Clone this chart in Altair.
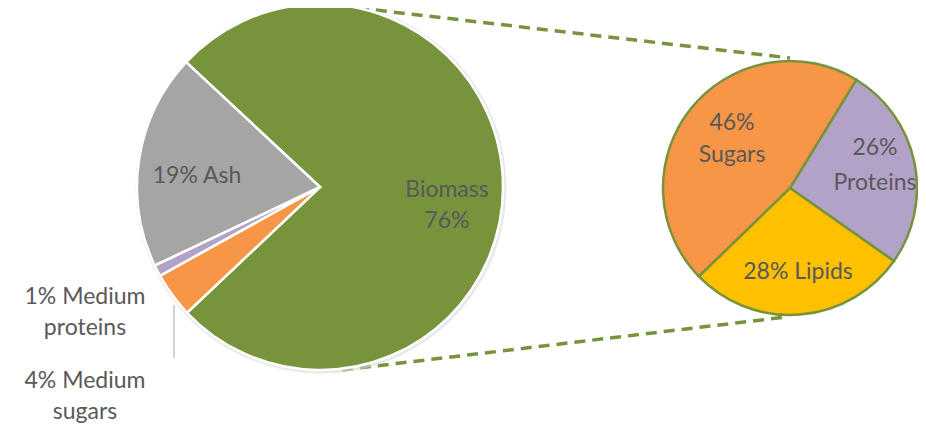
import math
import altair as alt
import pandas as pd

# ---- data ----
big_categories = ["Biomass", "Medium sugars", "Medium proteins", "Ash"]
big_values = [76, 4, 1, 19]
big_colors = ["#77933C", "#F79646", "#B3A2C7", "#A5A5A5"]

small_categories = ["Proteins", "Lipids", "Sugars"]
small_values = [26, 28, 46]
small_colors = ["#B3A2C7", "#FFC000", "#F79646"]

big_df = pd.DataFrame({"category": big_categories, "value": big_values,
                       "order": list(range(len(big_categories)))})
small_df = pd.DataFrame({"category": small_categories, "value": small_values,
                         "order": list(range(len(small_categories)))})

TEXT_COLOR = "#595959"
GREEN = "#77933C"
FONT = "Lato"
FS = 23

big_start = math.radians(313)
small_start = math.radians(31.5)
TAU = 2 * math.pi

BIG_CX, BIG_CY, BIG_R = 312, 179, 183
SM_CX, SM_CY, SM_R = 782, 180, 127

blank = pd.DataFrame({"a": [0]})

# dashed connector lines (drawn first, pies cover their ends)
top_line = alt.Chart(blank).mark_rule(color=GREEN, strokeWidth=3.5, strokeDash=[11, 7]).encode(
    x=alt.value(350), y=alt.value(0), x2=alt.value(782), y2=alt.value(50))
bot_line = alt.Chart(blank).mark_rule(color=GREEN, strokeWidth=3.5, strokeDash=[11, 7]).encode(
    x=alt.value(334), y=alt.value(362), x2=alt.value(778), y2=alt.value(309))

big_shadow = alt.Chart(blank).mark_arc(radius=BIG_R + 2.5, color="#DADADA", opacity=0.6).encode(
    x=alt.value(BIG_CX + 1), y=alt.value(BIG_CY + 1), theta=alt.value(TAU))

big_pie = alt.Chart(big_df).mark_arc(radius=BIG_R, stroke="white", strokeWidth=2.5).encode(
    x=alt.value(BIG_CX), y=alt.value(BIG_CY),
    theta=alt.Theta("value:Q", stack=True,
                    scale=alt.Scale(domain=[0, 100], range=[big_start, big_start + TAU])),
    color=alt.Color("category:N", scale=alt.Scale(domain=big_categories, range=big_colors), legend=None),
    order=alt.Order("order:Q"),
)

small_pie = alt.Chart(small_df).mark_arc(radius=SM_R, stroke=GREEN, strokeWidth=2.5).encode(
    x=alt.value(SM_CX), y=alt.value(SM_CY),
    theta=alt.Theta("value:Q", stack=True,
                    scale=alt.Scale(domain=[0, 100], range=[small_start, small_start + TAU])),
    color=alt.Color("category:N", scale=alt.Scale(domain=small_categories, range=small_colors), legend=None),
    order=alt.Order("order:Q"),
)

leader = alt.Chart(blank).mark_rule(color="#A6A6A6", strokeWidth=1).encode(
    x=alt.value(166), y=alt.value(297), y2=alt.value(350))


def label(text, x, y):
    return alt.Chart(blank).mark_text(font=FONT, fontSize=FS, color=TEXT_COLOR,
                                      align="center", baseline="middle").encode(
        x=alt.value(x), y=alt.value(y), text=alt.value(text))


labels = [
    label("19% Ash", 189, 168),
    label("Biomass", 439, 182),
    label("76%", 439, 213),
    label("46%", 724, 115),
    label("Sugars", 724, 147),
    label("26%", 867, 140),
    label("Proteins", 867, 175),
    label("28% Lipids", 790, 264),
    label("1% Medium", 77, 289),
    label("proteins", 77, 320),
    label("4% Medium", 77, 373),
    label("sugars", 77, 404),
]

chart = alt.layer(top_line, bot_line, big_shadow, big_pie, small_pie, leader, *labels).resolve_scale(
    color="independent", theta="independent"
).properties(
    width=910, height=415, autosize=alt.AutoSizeParams(type="none"), padding=0
).configure_view(stroke=None)

chart.save("out.html", embed_options={"renderer": "svg", "actions": False})
